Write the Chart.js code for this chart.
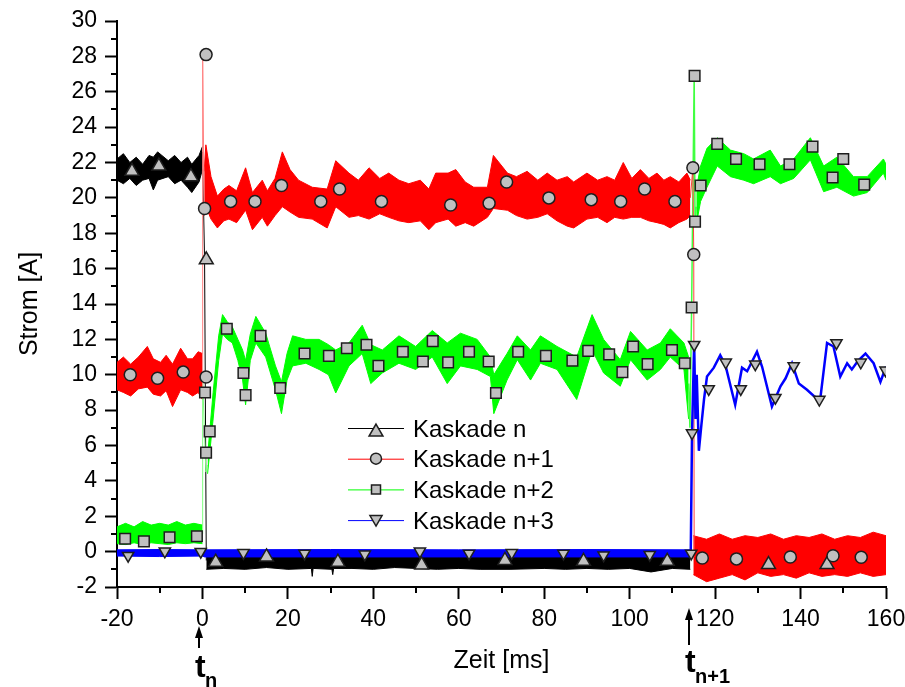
<!DOCTYPE html>
<html>
<head>
<meta charset="utf-8">
<script src="https://cdn.jsdelivr.net/npm/chart.js@4.4.0/dist/chart.umd.min.js"></script>
<style>
  html, body { margin: 0; padding: 0; background: #fff; }
</style>
</head>
<body>
<canvas id="stromChart" width="905" height="687"></canvas>
<script>
// ===========================
// Strom / Zeit - Kaskaden
// ===========================

// axis ranges and minor tick positions
const xRange = [-20, 160];
const yRange = [-2, 30];
const xMinorTicks = [-10, 10, 30, 50, 70, 90, 110, 130, 150];
const yMinorTicks = [-1, 1, 3, 5, 7, 9, 11, 13, 15, 17, 19, 21, 23, 25, 27, 29];

const seriesNames = ['Kaskade n', 'Kaskade n+1', 'Kaskade n+2', 'Kaskade n+3'];
const seriesColors = ['#000000', '#ff0000', '#00ff00', '#0000ff'];

// switching instants below the axis (ms) and their subscripts
const switchTimes = [-0.8, 113.8];
const switchLabels = ['n', 'n+1'];

// --- noisy traces, read as envelopes: [t, upper, lower] ---
const blackBefore = [
    [-20, 22.2, 21.0], [-18.5, 22.5, 20.8], [-17, 22.0, 21.1], [-15.5, 22.3, 20.7],
    [-14, 21.9, 21.0], [-12.5, 22.4, 21.1], [-11.5, 22.3, 20.45], [-10.5, 22.6, 21.0],
    [-8, 22.1, 21.2], [-6.5, 22.4, 20.8], [-5, 22.0, 21.0], [-3.5, 22.3, 20.6],
    [-2.5, 21.9, 20.3], [-0.8, 22.4, 20.9], [0, 22.9, 21.6]
];
const blackAfter = [
    [0.9, -0.1, -1.0], [5, -0.1, -0.95], [10, -0.1, -1.0], [15, -0.1, -0.9], [20, -0.1, -1.0],
    [25.5, -0.1, -0.95], [25.7, -0.1, -1.4], [25.9, -0.1, -0.95], [30.3, -0.1, -1.0],
    [30.5, -0.1, -1.3], [30.7, -0.1, -0.95], [35, -0.1, -0.95], [40, -0.1, -1.0],
    [45, -0.1, -0.9], [50, -0.1, -0.95], [55, -0.1, -1.0], [60, -0.1, -0.95], [65, -0.1, -1.0],
    [72, -0.1, -1.0], [80, -0.1, -0.95], [85, -0.1, -1.0], [90, -0.1, -0.95], [95, -0.1, -1.0],
    [100, -0.1, -0.95], [105, -0.1, -1.15], [110, -0.1, -0.95], [114.2, -0.1, -1.0]
];
const redBefore = [
    [-20, 10.7, 9.15], [-18.5, 11.0, 9.0], [-16.8, 10.6, 8.8], [-15, 11.0, 9.2],
    [-12.9, 11.6, 9.3], [-11.5, 10.9, 8.9], [-9.8, 10.7, 8.8], [-8.5, 11.1, 9.1],
    [-7, 10.6, 8.2], [-5.1, 11.5, 9.15], [-3.5, 10.9, 9.0], [-2.3, 10.9, 8.8],
    [-1, 11.3, 9.0], [0, 11.2, 8.6]
];
const redMiddle = [
    [0.4, 21.5, 19.0], [0.8, 23.0, 19.5], [2, 21.2, 18.8], [3.5, 20.1, 18.3], [5, 20.5, 18.7],
    [6.2, 20.7, 18.8], [8, 20.4, 18.6], [10.1, 21.7, 19.3], [11.7, 20.3, 18.2], [14, 21.0, 18.9],
    [15.2, 20.4, 18.4], [17, 21.1, 19.0], [18.7, 22.6, 19.5], [20.5, 21.6, 19.2], [22.5, 21.0, 18.9],
    [25.7, 20.6, 18.8], [29.2, 20.5, 18.3], [31.2, 22.1, 19.5], [34.3, 21.4, 18.9], [36.5, 21.0, 19.0],
    [39, 21.7, 18.8], [41.5, 21.1, 19.1], [43.6, 21.4, 18.9], [46, 21.0, 18.7], [48.3, 20.8, 18.6],
    [51, 21.0, 18.7], [53, 20.5, 18.2], [54.6, 21.4, 18.6], [57.5, 21.4, 18.8], [59.3, 21.6, 18.4],
    [61.5, 20.9, 18.6], [63.5, 20.6, 18.4], [66.7, 20.6, 18.9], [68.1, 22.4, 19.4], [71.4, 21.4, 19.3],
    [73.5, 21.2, 19.0], [76, 21.5, 18.8], [78.5, 21.0, 18.9], [80.7, 21.4, 19.1], [83, 21.0, 18.7],
    [85.4, 21.2, 18.4], [86.9, 20.9, 18.3], [90, 21.4, 18.8], [92.5, 21.0, 18.9], [94.7, 21.2, 18.6],
    [96.5, 21.0, 18.9], [98.5, 22.0, 18.8], [100.5, 21.1, 18.9], [102.5, 21.6, 18.9], [104.5, 21.1, 18.7],
    [106.4, 21.4, 18.6], [108, 21.0, 18.5], [109.5, 21.2, 18.3], [111.5, 20.9, 18.6], [113.4, 21.4, 18.8],
    [114.2, 21.0, 19.0]
];
const redAfter = [
    [114.9, 0.9, -1.3], [118, 0.7, -1.7], [121, 1.0, -1.5], [124, 0.7, -1.3], [127, 0.9, -1.6],
    [130, 0.8, -1.2], [133, 1.0, -1.4], [136, 0.7, -1.3], [139, 0.9, -1.5], [142, 0.8, -1.2],
    [145, 1.0, -1.4], [148, 0.7, -1.3], [151, 0.9, -1.4], [154, 0.8, -1.2], [157, 1.1, -1.4],
    [160, 0.9, -1.3]
];
const greenBefore = [
    [-20, 1.4, 0.45], [-18, 1.6, 0.4], [-16, 1.4, 0.5], [-14, 1.7, 0.4], [-12, 1.5, 0.5],
    [-10, 1.6, 0.45], [-8, 1.5, 0.4], [-6, 1.7, 0.5], [-4, 1.5, 0.45], [-2, 1.6, 0.5], [0, 1.5, 0.45]
];
const greenMiddle = [
    [1.2, 5.4, 4.4], [2.5, 9.0, 7.5], [3.8, 12.2, 10.8], [4.7, 13.4, 12.3], [5.8, 13.0, 12.0],
    [7, 12.7, 11.8], [8.3, 12.0, 10.8], [9.4, 11.4, 9.7], [10.1, 10.8, 8.3], [11.2, 12.3, 10.8],
    [12.5, 13.3, 11.8], [14.8, 12.35, 11.0], [17.1, 10.5, 9.15], [18.5, 9.6, 7.8], [19.8, 11.2, 9.7],
    [21.1, 12.2, 10.5], [24.2, 12.0, 10.65], [27.3, 12.0, 10.3], [29.5, 11.7, 10.0], [31.2, 11.4, 8.97],
    [34.3, 11.8, 10.5], [37.4, 12.8, 11.2], [39.4, 11.7, 9.5], [42.1, 11.4, 10.1], [46, 12.2, 10.65],
    [49.9, 11.6, 10.3], [53.8, 12.5, 11.0], [57.3, 11.8, 9.5], [60.4, 12.35, 10.5], [64.3, 12.0, 10.3],
    [67.4, 11.0, 9.9], [68.2, 10.0, 7.8], [71.3, 11.2, 9.7], [73.7, 12.2, 10.85], [76.8, 11.4, 9.7],
    [79.1, 12.2, 10.65], [83, 11.6, 10.3], [87.6, 11.0, 8.6], [91.2, 13.4, 11.4], [93.9, 12.0, 10.1],
    [97.8, 10.85, 9.35], [100.2, 12.45, 10.85], [104.1, 11.4, 9.7], [107.2, 11.8, 10.3],
    [109.5, 12.6, 11.0], [112.7, 11.8, 10.3], [113.8, 11.0, 7.5]
];
const greenAfter = [
    [115.6, 20.5, 18.5], [116.6, 21.8, 19.8], [118.1, 22.8, 20.6], [120.5, 23.4, 21.8],
    [123.6, 22.7, 21.2], [126.7, 22.5, 21.0], [129, 22.2, 20.8], [132.9, 22.7, 21.2],
    [135.3, 21.8, 20.8], [138.4, 22.2, 21.1], [142.3, 23.4, 22.15], [145.4, 21.8, 20.35],
    [148.5, 22.3, 20.6], [152.4, 21.2, 20.1], [155.6, 21.2, 20.3], [159.4, 22.2, 21.4],
    [160, 21.9, 21.0]
];
const blueBefore = [
    [-20, 0.1, -0.25], [-10, 0.12, -0.28], [0, 0.1, -0.25], [0.5, 0.1, -0.3],
    [30, 0.12, -0.3], [60, 0.1, -0.3], [90, 0.12, -0.3], [114.2, 0.1, -0.3]
];

// --- plain lines: [t, I] ---
const blueAfter = [
    [114.3, 0], [114.6, 6.7], [115.1, 11.8], [115.4, 7.5], [115.7, 10.0], [116.2, 5.7],
    [116.8, 7.2], [117.4, 8.6], [118.1, 9.9], [119.7, 10.4], [121.2, 11.1], [122.4, 10.55],
    [124.7, 8.3], [126.3, 10.4], [127.5, 10.2], [129.8, 11.3], [131, 10.45], [133.3, 8.2],
    [135.3, 9.35], [136.5, 9.8], [138, 10.65], [139.6, 9.5], [141.5, 9.15], [143.1, 8.8],
    [144.6, 8.6], [146.2, 11.8], [147.7, 11.6], [149.3, 9.9], [150.9, 10.65], [152, 10.3],
    [153.5, 10.8], [155.2, 11.2], [157.1, 10.65], [158.7, 9.6], [160, 10.45]
];
const redJumpTn = [[-0.05, 9.0], [0.05, 28.1], [0.4, 19.4]];
const greenJumpTn = [[-0.05, 1.0], [0.05, 9.7], [0.8, 4.5], [1.2, 4.9]];
const blackJumpTn = [[0, 22.6], [0.5, 16.5], [0.9, -0.5]];
const redJumpTn1 = [[114.2, 20.0], [114.8, 21.7], [115.0, 16.8], [115.1, -0.3]];
const greenJumpTn1 = [[113.8, 9.5], [114.1, 7.0], [114.5, 13.8], [115.1, 26.9], [115.3, 18.7], [115.6, 19.5]];

// --- markers: [t, I] ---
const markersN = [
    [-16.5, 21.5], [-10.2, 21.8], [-2.7, 21.2], [0.9, 16.5], [3.1, -0.6], [15, -0.3], [31.7, -0.6],
    [51.3, -0.75], [70.8, -0.5], [89.2, -0.55], [108.8, -0.55], [132.5, -0.73], [146.2, -0.73]
];
const markersN1 = [
    [-16.9, 10.0], [-10.5, 9.8], [-4.5, 10.15], [0.85, 28.1], [0.5, 19.4], [0.85, 9.87], [6.6, 19.8],
    [12.3, 19.8], [18.5, 20.7], [27.7, 19.8], [32.1, 20.5], [41.9, 19.8], [58.1, 19.6], [67.1, 19.7],
    [71.2, 20.9], [81.1, 20.0], [91, 19.9], [97.9, 19.8], [103.5, 20.5], [110.6, 19.8], [114.8, 21.7],
    [115, 16.8], [117, -0.36], [125, -0.41], [137.6, -0.3], [147.6, -0.23], [154.2, -0.32]
];
const markersN2 = [
    [-18.1, 0.73], [-13.7, 0.58], [-7.7, 0.81], [-1.3, 0.87], [0.6, 9.0], [0.85, 5.6], [1.7, 6.8],
    [5.7, 12.6], [9.6, 10.1], [10.1, 8.85], [13.6, 12.2], [18.2, 9.25], [23.9, 11.2], [29.6, 11.07],
    [33.8, 11.5], [38.4, 11.7], [41.2, 10.5], [46.9, 11.3], [51.6, 10.75], [53.9, 11.9], [57.5, 10.7],
    [62.4, 11.3], [67, 10.75], [68.7, 8.97], [73.9, 11.3], [80.4, 11.07], [86.6, 10.8], [90.3, 11.35],
    [95.2, 11.15], [98.3, 10.15], [100.8, 11.6], [104.2, 10.6], [109.9, 11.4], [112.9, 10.65],
    [114.5, 13.8], [115.2, 26.9], [115.3, 18.66], [116.6, 20.7], [120.5, 23.05], [124.9, 22.2],
    [130.4, 21.9], [137.4, 21.9], [142.8, 22.9], [147.5, 21.15], [150, 22.2], [154.9, 20.75]
];
const markersN3 = [
    [-17.4, -0.23], [-8.8, 0.02], [-0.4, 0], [9.6, -0.07], [23.9, -0.1], [38, -0.15], [50.9, 0.02],
    [62.4, -0.1], [72.4, -0.07], [84.5, -0.1], [93.9, -0.2], [104.7, -0.17], [114.4, -0.1],
    [114.6, 6.7], [115.1, 11.7], [118.5, 9.2], [122.5, 10.7], [126, 9.2], [129.4, 10.6], [134.1, 8.7],
    [138.4, 10.5], [144.4, 8.6], [148.4, 11.8], [154.1, 10.7], [159.9, 10.25]
];

const FONT = "'Liberation Sans', Arial, sans-serif";
const toXY = rows => rows.map(r => ({ x: r[0], y: r[1] }));

// lower edge + upper edge filled down to it
function bandSets(rows, color) {
    const base = { borderColor: color, backgroundColor: color, borderWidth: 1, pointRadius: 0, tension: 0 };
    return [
        { ...base, data: rows.map(r => ({ x: r[0], y: r[2] })), fill: false },
        { ...base, data: rows.map(r => ({ x: r[0], y: r[1] })), fill: '-1' }
    ];
}

function lineSet(rows, color, width) {
    return { data: toXY(rows), borderColor: color, borderWidth: width, pointRadius: 0, fill: false, tension: 0 };
}

function markerSet(rows, style, radius, rotation) {
    return {
        data: toXY(rows), showLine: false, pointStyle: style, pointRadius: radius,
        pointRotation: rotation || 0, pointBackgroundColor: '#c0c0c0',
        pointBorderColor: '#1e1e1e', pointBorderWidth: 1.5
    };
}

// first dataset ends up on top
const datasets = [
    markerSet(markersN3, 'triangle', 6.5, 180),
    markerSet(markersN2, 'rect', 7.5),
    markerSet(markersN1, 'circle', 6),
    markerSet(markersN, 'triangle', 8),
    lineSet(blueAfter, seriesColors[3], 2.5),
    lineSet(redJumpTn1, '#ff4040', 1),
    lineSet(greenJumpTn1, '#40ff40', 1.5),
    lineSet(redJumpTn, '#ff8080', 1),
    lineSet(greenJumpTn, '#80ff80', 1),
    ...bandSets(blueBefore, seriesColors[3]),
    ...bandSets(redAfter, seriesColors[1]),
    ...bandSets(greenAfter, seriesColors[2]),
    ...bandSets(greenMiddle, seriesColors[2]),
    ...bandSets(greenBefore, seriesColors[2]),
    ...bandSets(redMiddle, seriesColors[1]),
    ...bandSets(redBefore, seriesColors[1]),
    lineSet(blackJumpTn, seriesColors[0], 1),
    ...bandSets(blackAfter, seriesColors[0]),
    ...bandSets(blackBefore, seriesColors[0])
];

function drawMarker(ctx, style, x, y, r) {
    ctx.beginPath();
    if (style === 'circle') {
        ctx.arc(x, y, r, 0, Math.PI * 2);
    } else if (style === 'rect') {
        ctx.rect(x - r, y - r, 2 * r, 2 * r);
    } else {
        const d = style === 'up' ? 1 : -1;
        ctx.moveTo(x, y - d * r);
        ctx.lineTo(x + r * 0.866, y + d * r * 0.5);
        ctx.lineTo(x - r * 0.866, y + d * r * 0.5);
        ctx.closePath();
    }
    ctx.fill();
    ctx.stroke();
}

// minor ticks (Chart.js has none)
const minorTicks = {
    id: 'minorTicks',
    afterDraw(chart) {
        const { ctx, chartArea, scales: { x, y } } = chart;
        ctx.save();
        ctx.strokeStyle = '#000';
        ctx.lineWidth = 2;
        ctx.beginPath();
        yMinorTicks.forEach(v => {
            const py = Math.round(y.getPixelForValue(v));
            ctx.moveTo(chartArea.left - 6, py);
            ctx.lineTo(chartArea.left, py);
        });
        xMinorTicks.forEach(v => {
            const px = Math.round(x.getPixelForValue(v));
            ctx.moveTo(px, chartArea.bottom);
            ctx.lineTo(px, chartArea.bottom + 6);
        });
        ctx.stroke();
        ctx.restore();
    }
};

// t_n arrows under the axis
const switchMarks = {
    id: 'switchMarks',
    afterDraw(chart) {
        const { ctx, scales: { x } } = chart;
        const layout = [
            { tip: 626, end: 648, base: 677, sub: 687 },
            { tip: 608, end: 645, base: 672, sub: 683 }
        ];
        ctx.save();
        ctx.fillStyle = '#000';
        ctx.strokeStyle = '#000';
        switchTimes.forEach((t, i) => {
            const px = Math.round(x.getPixelForValue(t));
            const l = layout[i];
            ctx.lineWidth = 2;
            ctx.beginPath();
            ctx.moveTo(px, l.tip + 8);
            ctx.lineTo(px, l.end);
            ctx.stroke();
            ctx.beginPath();
            ctx.moveTo(px, l.tip);
            ctx.lineTo(px + 4, l.tip + 12);
            ctx.lineTo(px - 4, l.tip + 12);
            ctx.closePath();
            ctx.fill();
            ctx.textAlign = 'left';
            ctx.textBaseline = 'alphabetic';
            ctx.font = 'bold 32px ' + FONT;
            ctx.fillText('t', px - 4, l.base);
            ctx.font = 'bold 20px ' + FONT;
            ctx.fillText(switchLabels[i], px + 6, l.sub);
        });
        ctx.restore();
    }
};

// legend inside the plot
const insideLegend = {
    id: 'insideLegend',
    afterDraw(chart) {
        const { ctx } = chart;
        const styles = [['up', 8, 4], ['circle', 5.5, 0], ['rect', 4.5, 0], ['down', 7, -1]];
        ctx.save();
        seriesNames.forEach((name, i) => {
            const y = 428 + i * 30.7;
            ctx.strokeStyle = seriesColors[i];
            ctx.lineWidth = 1;
            ctx.beginPath();
            ctx.moveTo(348, y + 0.5);
            ctx.lineTo(404, y + 0.5);
            ctx.stroke();
            ctx.fillStyle = '#c0c0c0';
            ctx.strokeStyle = '#1e1e1e';
            ctx.lineWidth = 1.5;
            drawMarker(ctx, styles[i][0], 376, y + styles[i][2], styles[i][1]);
            ctx.fillStyle = '#000';
            ctx.font = '24px ' + FONT;
            ctx.textBaseline = 'alphabetic';
            ctx.fillText(name, 413, y + 8.5);
        });
        ctx.restore();
    }
};

const axisBorder = { display: true, color: '#000', width: 2 };
const axisGrid = { drawOnChartArea: false, drawTicks: true, tickLength: 12, tickWidth: 2, tickColor: '#000' };

const stromChart = new Chart(document.getElementById('stromChart'), {
    type: 'line',
    data: { datasets },
    options: {
        responsive: false,
        animation: false,
        layout: { padding: { left: 0, top: 21, right: 19, bottom: 0 } },
        plugins: { legend: { display: false }, tooltip: { enabled: false } },
        scales: {
            x: {
                type: 'linear', min: xRange[0], max: xRange[1],
                afterFit: s => { s.height = 100; s.paddingLeft = 0; s.paddingRight = 0; },
                border: axisBorder, grid: axisGrid,
                ticks: { stepSize: 20, autoSkip: false, maxRotation: 0, padding: 7, color: '#000', font: { family: FONT, size: 23 } },
                title: { display: true, text: 'Zeit [ms]', color: '#000', font: { family: FONT, size: 25 }, padding: { top: 0, bottom: 11 } }
            },
            y: {
                type: 'linear', min: yRange[0], max: yRange[1],
                afterFit: s => { s.width = 117; s.paddingTop = 0; s.paddingBottom = 0; },
                border: axisBorder, grid: axisGrid,
                ticks: { stepSize: 2, autoSkip: false, padding: 8, color: '#000', font: { family: FONT, size: 23 } },
                title: { display: true, text: 'Strom [A]', color: '#000', font: { family: FONT, size: 25 }, padding: { top: 15, bottom: 0 } }
            }
        }
    },
    plugins: [minorTicks, switchMarks, insideLegend]
});
</script>
</body>
</html>
